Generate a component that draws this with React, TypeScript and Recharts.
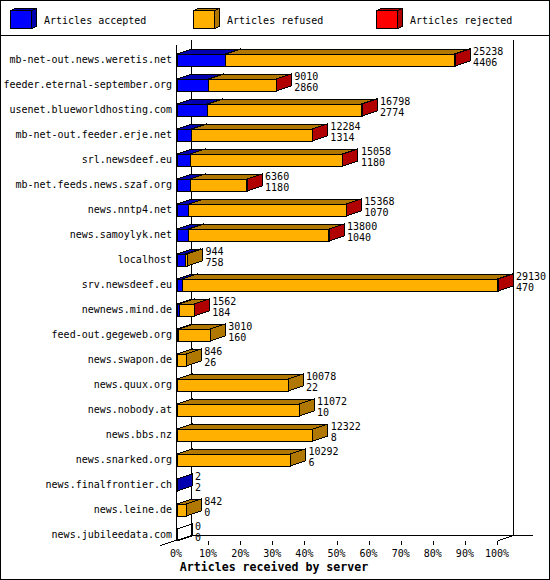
import { BarChart, Bar, XAxis, YAxis, LabelList, usePlotArea } from 'recharts'

const SERVERS = [
  'mb-net-out.news.weretis.net', 'feeder.eternal-september.org', 'usenet.blueworldhosting.com',
  'mb-net-out.feeder.erje.net', 'srl.newsdeef.eu', 'mb-net.feeds.news.szaf.org', 'news.nntp4.net',
  'news.samoylyk.net', 'localhost', 'srv.newsdeef.eu', 'newnews.mind.de', 'feed-out.gegeweb.org',
  'news.swapon.de', 'news.quux.org', 'news.nobody.at', 'news.bbs.nz', 'news.snarked.org',
  'news.finalfrontier.ch', 'news.leine.de', 'news.jubileedata.com',
]
const ACCEPTED = [4406, 2860, 2774, 1314, 1180, 1180, 1070, 1040, 758, 470, 184, 160, 26, 22, 10, 8, 6, 2, 0, 0]
const REFUSED = [20772, 6130, 13934, 10955, 13848, 5168, 14278, 12735, 186, 28600, 1370, 2850, 820, 10056, 11062, 12314, 10286, 0, 842, 0]
const REJECTED = [60, 20, 90, 15, 30, 12, 20, 25, 0, 60, 8, 0, 0, 0, 0, 0, 0, 0, 0, 0]
const TICK_PERCENTS = [0, 10, 20, 30, 40, 50, 60, 70, 80, 90, 100]
const MAX_TOTAL = 29130

const rows = SERVERS.map((name, i) => ({
  name,
  accepted: ACCEPTED[i],
  refused: REFUSED[i],
  rejected: REJECTED[i],
  total: ACCEPTED[i] + REFUSED[i] + REJECTED[i],
}))

const LEGEND = [
  { label: 'Articles accepted', face: '#0000ff', dark: '#0000b0', x: 10.5, textX: 44 },
  { label: 'Articles refused', face: '#ffb000', dark: '#b07800', x: 193.5, textX: 227 },
  { label: 'Articles rejected', face: '#ff0000', dark: '#b00000', x: 376.5, textX: 410 },
]

const MONO = '"DejaVu Sans Mono", monospace'
const DX = 15
const DY = 5

// front, top and side of one stacked piece
function Box3D({ x, y, width, height, fill, dark, payload, dataKey }: any) {
  const empty = payload.total === 0
  if (width <= 0 && !(empty && dataKey === 'accepted')) return null
  const r = x + width
  const b = y + height
  const top = `${x},${y} ${x + DX},${y - DY} ${r + DX},${y - DY} ${r},${y}`
  const side = `${r},${y} ${r + DX},${y - DY} ${r + DX},${b - DY} ${r},${b}`
  return (
    <g stroke="#000" strokeWidth={1} shapeRendering="crispEdges">
      <polygon points={top} fill={empty ? 'none' : dark} />
      <polygon points={side} fill={empty ? 'none' : dark} />
      <rect x={x} y={y} width={width} height={height} fill={empty ? 'none' : fill} />
    </g>
  )
}

function Walls() {
  const plot = usePlotArea()
  if (!plot) return null
  const left = plot.x - 0.5
  const right = plot.x + plot.width + 0.5
  const floor = plot.y + plot.height - 11.5
  const lines = [
    [left, plot.y - 2, left, floor + 5],
    [left + DX, plot.y - 7, left + DX, floor],
    [right + DX, plot.y - 7, right + DX, floor],
    [left + DX, floor, right + DX + 19, floor],
    [left - DX - 1, floor + 10, left + DX, floor],
    [right, floor + 5, right + DX, floor],
  ]
  return (
    <g stroke="#000" strokeWidth={1} shapeRendering="crispEdges">
      {lines.map((l, i) => (
        <line key={i} x1={l[0]} y1={l[1]} x2={l[2]} y2={l[3]} />
      ))}
    </g>
  )
}

function PercentTick({ x, y, payload }: any) {
  const pct = Math.round((payload.value / MAX_TOTAL) * 100)
  return (
    <g>
      {pct > 0 && <line x1={x - 0.5} y1={y - 6} x2={x - 0.5} y2={y - 2} stroke="#000" shapeRendering="crispEdges" />}
      <text x={x - 1} y={y + 10} textAnchor="middle" fontFamily={MONO} fontSize={10} fill="#000">
        {pct}%
      </text>
    </g>
  )
}

function ServerTick({ x, y, payload }: any) {
  return (
    <text x={x} y={y + 3.5} textAnchor="end" fontFamily={MONO} fontSize={10} fill="#000">
      {payload.value}
    </text>
  )
}

function CountLabels({ x, y, width, height, index }: any) {
  const row = rows[index]
  const tx = x + width + DX + 3
  const cy = y + height / 2
  return (
    <text fontFamily={MONO} fontSize={10} fill="#000">
      <tspan x={tx} y={cy - 5.5}>{row.total}</tspan>
      <tspan x={tx} y={cy + 5.5}>{row.accepted}</tspan>
    </text>
  )
}

function LegendBar() {
  return (
    <svg width={550} height={36} style={{ position: 'absolute', left: 0, top: 0 }}>
      {LEGEND.map(l => (
        <g key={l.label}>
          <g stroke="#000" shapeRendering="crispEdges">
            <polygon points={`${l.x},10.5 ${l.x + 5},8.5 ${l.x + 26},8.5 ${l.x + 21},10.5`} fill={l.dark} />
            <polygon points={`${l.x + 21},10.5 ${l.x + 26},8.5 ${l.x + 26},26.5 ${l.x + 21},28.5`} fill={l.dark} />
            <rect x={l.x} y={10.5} width={21} height={18} fill={l.face} />
          </g>
          <text x={l.textX} y={24} fontFamily={MONO} fontSize={10} fill="#000">{l.label}</text>
        </g>
      ))}
    </svg>
  )
}

export default function App() {
  return (
    <div style={{ position: 'absolute', left: 0, top: 0, width: 550, height: 580, background: '#fff', overflow: 'hidden' }}>
      <BarChart
        width={550}
        height={580}
        data={rows}
        layout="vertical"
        barSize={12}
        margin={{ top: 47, right: 52, bottom: 3, left: 0 }}
      >
        <Walls />
        <XAxis
          type="number"
          domain={[0, MAX_TOTAL]}
          ticks={TICK_PERCENTS.map(p => (p / 100) * MAX_TOTAL)}
          height={30}
          axisLine={false}
          tickLine={false}
          tickSize={0}
          tickMargin={0}
          interval={0}
          tick={PercentTick}
        />
        <YAxis
          type="category"
          dataKey="name"
          width={177}
          axisLine={false}
          tickLine={false}
          tickSize={0}
          tickMargin={5}
          interval={0}
          tick={ServerTick}
        />
        <Bar dataKey="accepted" stackId="a" isAnimationActive={false}
          shape={(p: any) => <Box3D {...p} fill={LEGEND[0].face} dark={LEGEND[0].dark} />} />
        <Bar dataKey="refused" stackId="a" isAnimationActive={false}
          shape={(p: any) => <Box3D {...p} fill={LEGEND[1].face} dark={LEGEND[1].dark} />} />
        <Bar dataKey="rejected" stackId="a" isAnimationActive={false}
          shape={(p: any) => <Box3D {...p} fill={LEGEND[2].face} dark={LEGEND[2].dark} />}>
          <LabelList dataKey="total" content={CountLabels} />
        </Bar>
        <text x={274} y={571} textAnchor="middle" fontFamily={MONO} fontWeight="bold" fontSize={11.6} fill="#000">
          Articles received by server
        </text>
      </BarChart>
      <LegendBar />
      <div style={{ position: 'absolute', left: 0, top: 35, width: 550, height: 1, background: '#000' }} />
      <div style={{ position: 'absolute', left: 0, top: 0, width: 550, height: 580, boxSizing: 'border-box', border: '1px solid #000', pointerEvents: 'none' }} />
    </div>
  )
}
